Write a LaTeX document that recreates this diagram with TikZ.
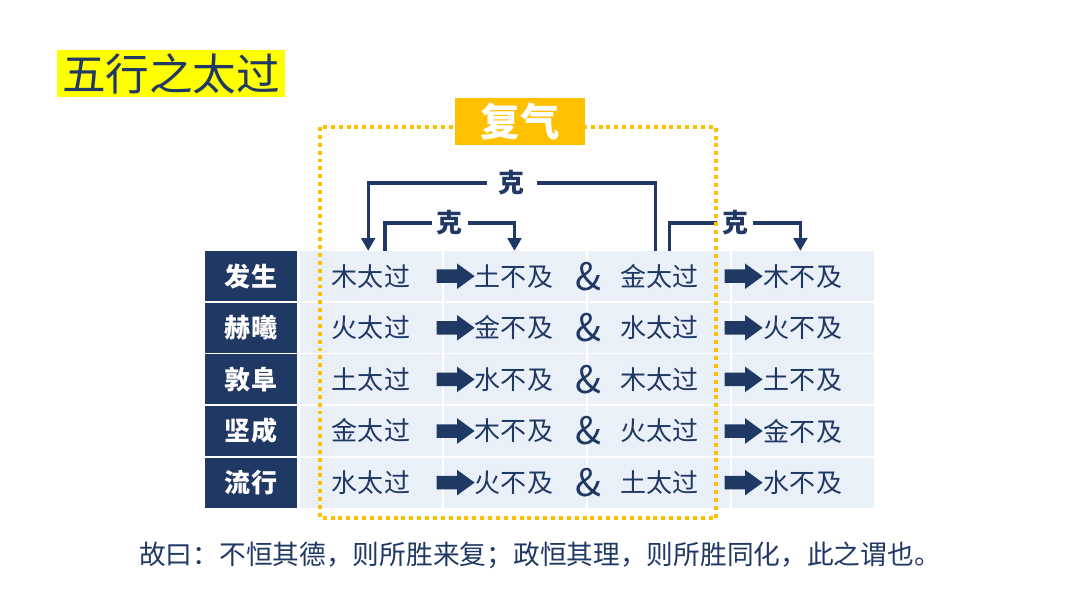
\documentclass[tikz,border=0pt]{standalone}
\usepackage{fontspec}
\setmainfont{Noto Sans CJK SC}
\usetikzlibrary{shapes.arrows,arrows.meta,positioning}
\definecolor{navy}{HTML}{203864}
\definecolor{cellblue}{HTML}{E9F0F8}
\definecolor{gold}{HTML}{FFC000}
\definecolor{hilite}{HTML}{FFFF00}

\begin{document}
\begin{tikzpicture}[x=0.025cm, y=-0.025cm,
    every node/.style={text=navy},
    cell/.style={fill=cellblue, minimum width=101pt, minimum height=35.6pt, inner sep=0pt,
      font=\fontsize{18.5pt}{22pt}\selectfont},
    labcell/.style={fill=navy, text=white, minimum width=65.4pt, minimum height=35.6pt, inner sep=0pt,
      font=\bfseries\fontsize{18.5pt}{22pt}\selectfont},
    txt/.style={inner sep=0pt, font=\fontsize{18.5pt}{22pt}\selectfont},
    blockarrow/.style={single arrow, fill=navy, inner sep=0pt, inner ysep=4.6pt,
      minimum height=27pt, minimum width=17.8pt, single arrow head extend=4.3pt,
      single arrow tip angle=72},
    ke/.style={fill=white, inner ysep=1pt, font=\bfseries\fontsize{18.5pt}{22pt}\selectfont},
    kearrow/.style={draw=navy, line width=2.3pt, -{Triangle[width=9.5pt,length=9pt]}},
    fubox/.style={draw=gold, line width=2.8pt, dash pattern=on 2.8pt off 2.8pt}]
  \useasboundingbox (0,0) rectangle (1080,608);

  % title
  \node[fill=hilite, minimum width=162pt, minimum height=33.4pt, inner sep=0pt,
    font=\fontsize{31pt}{34pt}\selectfont] (title) at (171,73.5) {五行之太过};

  % table
  \foreach \i/\nm/\ta/\tb/\tc/\td in {1/发生/木/土/金/木, 2/赫曦/火/金/水/火,
      3/敦阜/土/水/木/土, 4/坚成/金/木/火/金, 5/流行/水/火/土/水} {
    \pgfmathsetmacro\yy{224.6+51.6*\i}
    \node[labcell] (lab-\i) at (251,\yy) {\nm};
    \node[cell] (a-\i) at (371,\yy) {\ta 太过};
    \node[cell] (b-\i) at (515.2,\yy) {};
    \node[cell] (c-\i) at (659.2,\yy) {\tc 太过};
    \node[cell] (d-\i) at (803.2,\yy) {};
    \node[blockarrow] (ab-\i) at (451,\yy) {};
    \node[txt] (bt-\i) at (514,\yy) {\tb 不及};
    \node[txt, font=\fontsize{27pt}{30pt}\selectfont] (amp-\i) at (588,\yy) {\&};
    \node[blockarrow] (cd-\i) at (739,\yy) {};
    \node[txt] (dt-\i) at (803,\yy) {\td 不及};
  }

  % 克 brackets
  \draw[kearrow] ([xshift=-2.5pt]c-1.north) -- ++(0,-68)
    -| node[ke, pos=0.25, inner xsep=8.5pt] (ke-big) {克} ([xshift=-2pt]a-1.north);
  \draw[kearrow] ([xshift=10pt]a-1.north) -- ++(0,-28)
    -| node[ke, pos=0.25, inner xsep=3.5pt] (ke-left) {克} ([xshift=-0.5pt]b-1.north);
  \draw[kearrow] ([xshift=7.5pt]c-1.north) -- ++(0,-28)
    -| node[ke, pos=0.25, inner xsep=3.5pt] (ke-right) {克} ([xshift=-2pt]d-1.north);

  % 复气 frame
  \draw[fubox] (320,127) rectangle (716,518);
  \node[fill=gold, text=white, minimum width=92.5pt, minimum height=33.4pt, inner sep=0pt,
    font=\bfseries\fontsize{28pt}{30pt}\selectfont] (fuqi) at (520,121.5) {复气};

  % quote
  \node[font=\fontsize{19pt}{22pt}\selectfont] (quote) at (540,555)
    {故曰：不恒其德，则所胜来复；政恒其理，则所胜同化，此之谓也。};
\end{tikzpicture}
\end{document}
